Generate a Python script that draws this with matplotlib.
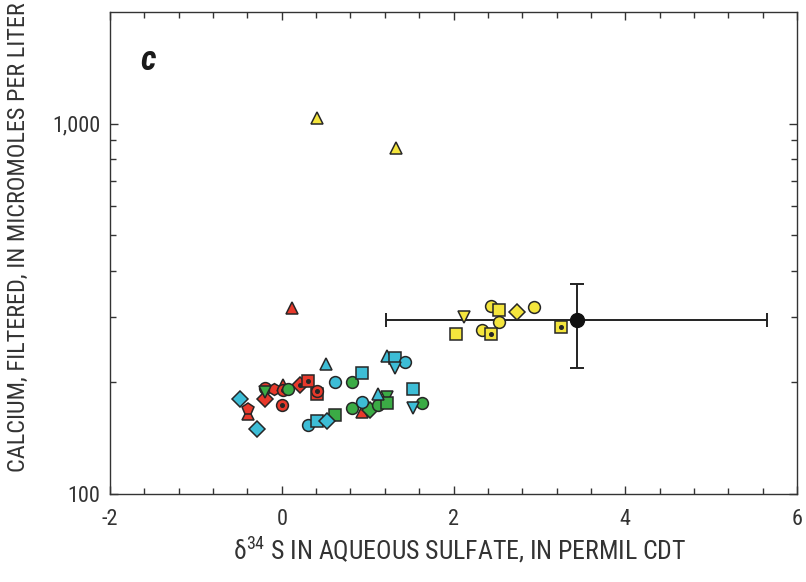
import matplotlib
matplotlib.use("Agg")
import matplotlib.pyplot as plt
from matplotlib import font_manager
from matplotlib.ticker import FixedLocator, FixedFormatter, MultipleLocator, NullFormatter

# Prefer a condensed sans; Roboto is the narrowest of the usual fallbacks
_names = {f.name for f in font_manager.fontManager.ttflist}
FONT = next((f for f in ["Liberation Sans Narrow", "DejaVu Sans Condensed", "Roboto Condensed", "Roboto"]
             if f in _names), "DejaVu Sans")
plt.rcParams["font.family"] = [FONT, "DejaVu Sans"]
plt.rcParams["mathtext.fontset"] = "custom"
plt.rcParams["mathtext.rm"] = FONT
plt.rcParams["mathtext.it"] = FONT
plt.rcParams["axes.unicode_minus"] = False

# delta34S (permil) vs filtered calcium (micromol/L), grouped by symbol colour
RED_X = [0.12, -0.39, -0.39, -0.20, -0.20, -0.09, 0.02, 0.02, 0.00, 0.21, 0.41, 0.31, 0.41, 0.93]
RED_Y = [317, 164, 169.5, 193, 181, 192, 197, 190.7, 174, 197, 186, 202, 190, 166]
RED_MARK = ["^", "^", "p", "o", "D", "h", "^", "o", "o", "D", "s", "s", "o", "^"]
RED_DOT = [0, 0, 0, 0, 0, 0, 0, 1, 1, 1, 0, 1, 1, 0]

GREEN_X = [-0.20, 0.07, 0.82, 0.82, 1.03, 1.12, 1.23, 1.23, 0.62, 1.63]
GREEN_Y = [188, 192, 200, 171, 169, 174, 183, 176, 163, 176]
GREEN_MARK = ["v", "o", "o", "o", "D", "o", "v", "s", "s", "o"]

CYAN_X = [-0.49, -0.29, 0.52, 0.62, 0.93, 0.93, 1.23, 1.32, 1.44, 1.32, 1.53, 1.53, 1.12, 0.31, 0.41, 0.53]
CYAN_Y = [180, 150, 225, 200, 212, 177, 236, 233, 227, 219, 192, 171, 186, 153.5, 157, 157]
CYAN_MARK = ["D", "D", "^", "o", "s", "o", "^", "s", "o", "v", "s", "v", "^", "o", "s", "D"]

YELLOW_X = [0.41, 1.33, 2.12, 2.03, 2.44, 2.53, 2.74, 2.94, 2.53, 2.33, 2.44, 3.25]
YELLOW_Y = [1038, 861, 300, 270, 321, 313, 309, 319, 291, 277, 270, 282]
YELLOW_MARK = ["^", "^", "v", "s", "o", "s", "D", "o", "o", "o", "s", "s"]
YELLOW_DOT = [0, 0, 0, 0, 0, 0, 0, 0, 0, 0, 1, 1]

# reference point with its range
REF_X, REF_Y = 3.44, 294
REF_X_RANGE = (1.21, 5.65)
REF_Y_RANGE = (219, 368)

EDGE = "#262626"
MS = 8.5


def draw_group(ax, xs, ys, marks, color, dots=None):
    for i, (x, y, m) in enumerate(zip(xs, ys, marks)):
        size = MS * 0.9 if m == "D" else MS
        ax.plot(x, y, marker=m, ms=size, mfc=color, mec=EDGE, mew=1.1,
                linestyle="none", zorder=3)
        if dots and dots[i]:
            ax.plot(x, y, marker="o", ms=2.6, mfc=EDGE, mec=EDGE,
                    linestyle="none", zorder=3)


fig = plt.figure(figsize=(8.06, 5.82), dpi=100)
ax = fig.add_axes([110 / 806, 1 - 494 / 582, 687 / 806, 482 / 582])

ax.errorbar(
    [REF_X], [REF_Y],
    xerr=[[REF_X - REF_X_RANGE[0]], [REF_X_RANGE[1] - REF_X]],
    yerr=[[REF_Y - REF_Y_RANGE[0]], [REF_Y_RANGE[1] - REF_Y]],
    fmt="o", ms=10, mfc="#111111", mec="#111111", ecolor="#222222",
    elinewidth=1.4, capsize=5, capthick=1.4, zorder=2,
)

draw_group(ax, RED_X, RED_Y, RED_MARK, "#e8392b", RED_DOT)
draw_group(ax, GREEN_X, GREEN_Y, GREEN_MARK, "#3bab45")
draw_group(ax, CYAN_X, CYAN_Y, CYAN_MARK, "#3dbdd6")
draw_group(ax, YELLOW_X, YELLOW_Y, YELLOW_MARK, "#f4e53d", YELLOW_DOT)

ax.set_xlim(-2, 6)
ax.set_yscale("log")
ax.set_ylim(100, 2000)

ax.xaxis.set_major_locator(MultipleLocator(2))
ax.xaxis.set_minor_locator(MultipleLocator(0.4))
ax.yaxis.set_major_locator(FixedLocator([100, 1000]))
ax.yaxis.set_major_formatter(FixedFormatter(["100", "1,000"]))
ax.yaxis.set_minor_locator(FixedLocator([200, 300, 400, 500, 600, 700, 800, 900]))
ax.yaxis.set_minor_formatter(NullFormatter())

text_color = "#333333"
ax.tick_params(which="both", direction="in", top=True, right=True,
               color="#333333", width=1.0)
ax.tick_params(which="major", length=6)
ax.tick_params(which="minor", length=4)
ax.tick_params(axis="x", which="major", pad=11, labelsize=16, labelcolor=text_color)
ax.tick_params(axis="y", which="major", pad=7, labelsize=16, labelcolor=text_color)
for s in ax.spines.values():
    s.set_color("#333333")
    s.set_linewidth(1.0)

ax.set_xlabel(r"$\mathrm{\delta}^{34}$ S IN AQUEOUS SULFATE, IN PERMIL CDT",
              fontsize=18.5, color=text_color)
ax.set_ylabel("CALCIUM, FILTERED, IN MICROMOLES PER LITER",
              fontsize=17.5, color=text_color)
ax.xaxis.set_label_coords(0.509, -0.085)
ax.yaxis.set_label_coords(-0.117, 0.532)

ax.text(0.055, 0.90, "c", transform=ax.transAxes, fontsize=25,
        fontweight="bold", fontstyle="italic", color="#1a1a1a",
        ha="center", va="center")

fig.savefig("out.png", dpi=100)
